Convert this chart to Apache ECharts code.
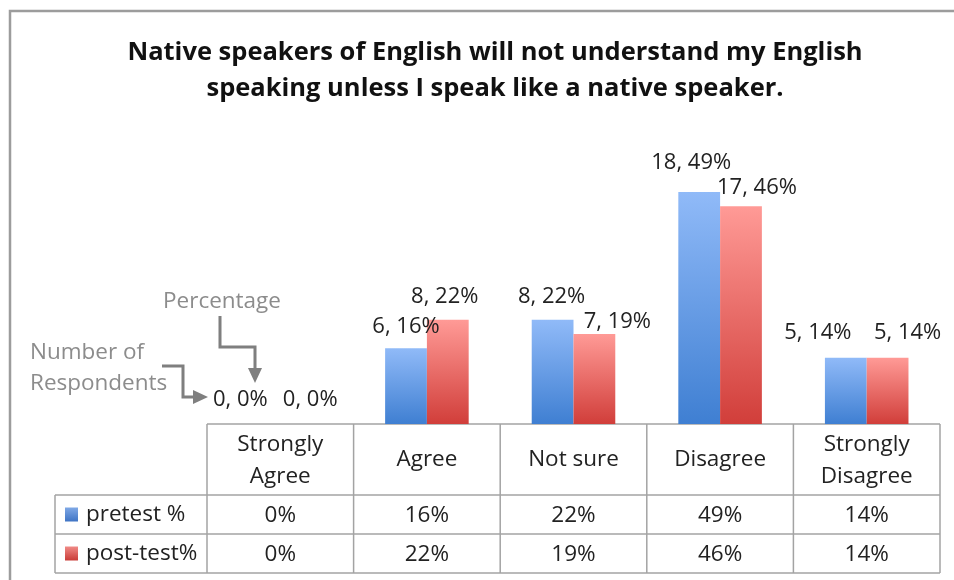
<!DOCTYPE html>
<html>
<head>
<meta charset="utf-8">
<script src="https://cdn.jsdelivr.net/npm/echarts@6/dist/echarts.min.js"></script>
<style>
  html, body { margin: 0; padding: 0; background: #fff; }
  #chart { width: 954px; height: 580px; }
</style>
</head>
<body>
<div id="chart"></div>
<script>
// Survey item: responses before and after the course
const categories = ['Strongly Agree', 'Agree', 'Not sure', 'Disagree', 'Strongly Disagree'];
const headerLines = [['Strongly', 'Agree'], ['Agree'], ['Not sure'], ['Disagree'], ['Strongly', 'Disagree']];
const pretestCount = [0, 6, 8, 18, 5];
const pretestPct = [0, 16, 22, 49, 14];
const posttestCount = [0, 8, 7, 17, 5];
const posttestPct = [0, 22, 19, 46, 14];
const seriesNames = ['pretest %', 'post-test%'];

const FONT = '"Open Sans", "Noto Sans", sans-serif';
const LABEL_SIZE = 22;
const TEXT_SIZE = 22.5;
const GRID = { left: 207, right: 14, top: 140, bottom: 156 };

// Hand-placed label nudges (x, y) per bar, like the chart's dragged labels
const preLabelShift = [[-19, -8], [0, -6], [-1, -7], [-8, -13], [-28, -9]];
const postLabelShift = [[9, -8], [-3, -7], [23, 4], [16, -3], [20, -9]];

function grad(top, bottom) {
  return new echarts.graphic.LinearGradient(0, 0, 0, 1, [
    { offset: 0, color: top },
    { offset: 1, color: bottom }
  ]);
}
const BLUE = grad('#90baf8', '#3f7fd2');
const RED = grad('#ff9a96', '#d13e3a');

function makeData(pct, counts, shifts) {
  return pct.map((v, i) => ({
    value: v,
    label: {
      offset: shifts[i],
      formatter: counts[i] + ', ' + v + '%'
    }
  }));
}

const chart = echarts.init(document.getElementById('chart'), null, { renderer: 'canvas' });

chart.setOption({
  animation: false,
  backgroundColor: '#fff',
  title: {
    text: 'Native speakers of English will not understand my English\nspeaking unless I speak like a native speaker.',
    left: 490,
    top: 30,
    textAlign: 'center',
    textStyle: {
      fontFamily: FONT,
      fontWeight: 'bold',
      fontSize: 25.5,
      lineHeight: 36,
      color: '#111'
    }
  },
  grid: GRID,
  xAxis: {
    type: 'category',
    data: categories,
    axisLine: { show: false },
    axisTick: { show: false },
    axisLabel: { show: false }
  },
  yAxis: {
    type: 'value',
    min: 0,
    max: 60,
    show: false,
    splitLine: { show: false }
  },
  series: [
    {
      name: seriesNames[0],
      type: 'bar',
      data: makeData(pretestPct, pretestCount, preLabelShift),
      barGap: '0%',
      barCategoryGap: '43%',
      itemStyle: { color: BLUE },
      label: {
        show: true, position: 'top', distance: 5,
        fontFamily: FONT, fontSize: LABEL_SIZE, color: '#222'
      }
    },
    {
      name: seriesNames[1],
      type: 'bar',
      data: makeData(posttestPct, posttestCount, postLabelShift),
      itemStyle: { color: RED },
      label: {
        show: true, position: 'top', distance: 5,
        fontFamily: FONT, fontSize: LABEL_SIZE, color: '#222'
      }
    }
  ]
});

// Data table under the plot, laid out on the category axis
function buildTable() {
  const lineColor = '#a3a3a3';
  const els = [];
  const top = 580 - GRID.bottom;          // bars' baseline = table top
  const headerBottom = top + 71;
  const row1Bottom = headerBottom + 39;
  const row2Bottom = row1Bottom + 39;
  const legendLeft = 55;

  const centers = categories.map(c => chart.convertToPixel({ xAxisIndex: 0 }, c));
  const half = (centers[1] - centers[0]) / 2;
  const tableLeft = centers[0] - half;
  const tableRight = centers[centers.length - 1] + half;

  const hline = (x1, x2, y) => els.push({
    type: 'line', shape: { x1, y1: y, x2, y2: y },
    style: { stroke: lineColor, lineWidth: 1.5 }
  });
  const vline = (x, y1, y2) => els.push({
    type: 'line', shape: { x1: x, y1, x2: x, y2 },
    style: { stroke: lineColor, lineWidth: 1.5 }
  });
  const text = (t, x, y, align, color, size) => els.push({
    type: 'text', x, y,
    style: {
      text: t, fontFamily: FONT, fontSize: size || TEXT_SIZE,
      fill: color || '#222', align: align || 'center', verticalAlign: 'middle'
    }
  });

  hline(tableLeft, tableRight, top);
  hline(legendLeft, tableRight, headerBottom);
  hline(legendLeft, tableRight, row1Bottom);
  hline(legendLeft, tableRight, row2Bottom);
  vline(legendLeft, headerBottom, row2Bottom);
  for (let i = 0; i <= centers.length; i++) {
    vline(tableLeft + i * 2 * half, top, row2Bottom);
  }

  const headerMid = (top + headerBottom) / 2;
  const row1Mid = (headerBottom + row1Bottom) / 2;
  const row2Mid = (row1Bottom + row2Bottom) / 2;

  headerLines.forEach((lines, i) => {
    if (lines.length === 1) {
      text(lines[0], centers[i], headerMid);
    } else {
      text(lines[0], centers[i], headerMid - 15);
      text(lines[1], centers[i], headerMid + 17);
    }
    text(pretestPct[i] + '%', centers[i], row1Mid + 1);
    text(posttestPct[i] + '%', centers[i], row2Mid + 1);
  });

  // legend keys
  els.push({
    type: 'rect', shape: { x: 65, y: row1Mid - 7, width: 13, height: 14 },
    style: { fill: grad('#7fa8e6', '#3f74c4') }
  });
  els.push({
    type: 'rect', shape: { x: 65, y: row2Mid - 7, width: 13, height: 14 },
    style: { fill: grad('#f08a86', '#c93b37') }
  });
  text(seriesNames[0], 86, row1Mid, 'left');
  text(seriesNames[1], 86, row2Mid, 'left');

  // callouts explaining the label format
  const gray = '#8c8c8c';
  const arrowGray = '#7f7f7f';
  text('Percentage', 222, 302, 'center', gray);
  text('Number of', 30, 353, 'left', gray);
  text('Respondents', 30, 384, 'left', gray);
  els.push({
    type: 'polyline', shape: { points: [[220, 316], [220, 347], [255, 347], [255, 369]] },
    style: { stroke: arrowGray, lineWidth: 3, fill: null }
  });
  els.push({
    type: 'polygon', shape: { points: [[248, 368], [262, 368], [255, 383]] },
    style: { fill: arrowGray }
  });
  els.push({
    type: 'polyline', shape: { points: [[162, 366], [183, 366], [183, 397], [194, 397]] },
    style: { stroke: arrowGray, lineWidth: 3, fill: null }
  });
  els.push({
    type: 'polygon', shape: { points: [[193, 390], [193, 404], [208, 397]] },
    style: { fill: arrowGray }
  });

  // outer chart frame
  els.push({
    type: 'rect', shape: { x: 10, y: 11, width: 960, height: 600 },
    style: { stroke: '#9c9c9c', lineWidth: 2.5, fill: null },
    z: 10
  });

  chart.setOption({ graphic: { elements: els } });
}

buildTable();
</script>
</body>
</html>
